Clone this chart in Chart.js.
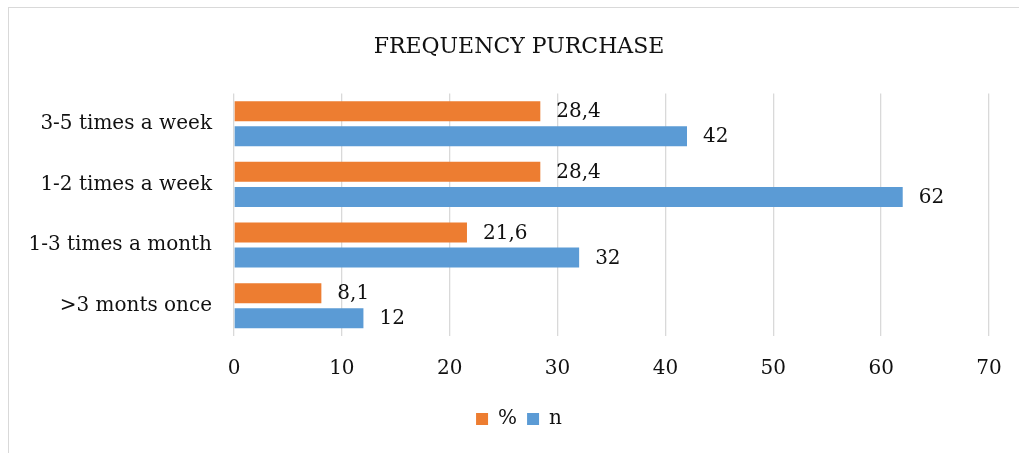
<!DOCTYPE html>
<html>
<head>
<meta charset="utf-8">
<script src="https://cdn.jsdelivr.net/npm/chart.js@4/dist/chart.umd.min.js"></script>
<style>
  html, body { margin: 0; padding: 0; background: #fff; }
  body { width: 1019px; height: 453px; overflow: hidden; position: relative; }
  #frame {
    position: absolute; left: 8px; top: 7px;
    width: 1020px; height: 446px;
    border-left: 1px solid #d9d9d9; border-top: 1px solid #d9d9d9;
  }
  #wrap { position: absolute; left: 0; top: 0; width: 1020px; height: 446px; }
</style>
</head>
<body>
<div id="frame"><div id="wrap"><canvas id="freqChart"></canvas></div></div>
<script>
// categories, top to bottom
const categories = ['3-5 times a week', '1-2 times a week', '1-3 times a month', '>3 monts once'];
const pctValues = [28.4, 28.4, 21.6, 8.1];
const nValues = [42, 62, 32, 12];
const xTicks = [0, 10, 20, 30, 40, 50, 60, 70];

const FONT = "'DejaVu Serif', 'Liberation Serif', serif";
const TXT = '#111';

// little plugin to write the values next to the bars (comma decimals like the original)
const valueLabels = {
  id: 'valueLabels',
  afterDatasetsDraw(chart) {
    const ctx = chart.ctx;
    ctx.save();
    ctx.font = '20px ' + FONT;
    ctx.fillStyle = TXT;
    ctx.textAlign = 'left';
    ctx.textBaseline = 'middle';
    chart.data.datasets.forEach((ds, i) => {
      const meta = chart.getDatasetMeta(i);
      meta.data.forEach((bar, j) => {
        let txt = String(ds.data[j]).replace('.', ',');
        ctx.fillText(txt, bar.x + 16, bar.y + 1);
      });
    });
    ctx.restore();
  }
};

// y labels get clipped to the axis box, so stretch the box back to the canvas edge
const widenY = {
  id: 'widenY',
  afterLayout(chart) { chart.scales.y.left = 0; }
};

const ctx = document.getElementById('freqChart').getContext('2d');
const chart = new Chart(ctx, {
  type: 'bar',
  data: {
    labels: categories,
    datasets: [
      { label: '%', data: pctValues, backgroundColor: '#ED7D31', barPercentage: 0.8, categoryPercentage: 0.826 },
      { label: 'n', data: nValues, backgroundColor: '#5B9BD5', barPercentage: 0.8, categoryPercentage: 0.826 }
    ]
  },
  options: {
    indexAxis: 'y',
    responsive: true,
    maintainAspectRatio: false,
    animation: false,
    // side padding keeps title/legend centred like the original while the plot stays put
    layout: { padding: { left: 40, right: 40, top: 0, bottom: 15 } },
    scales: {
      x: {
        min: 0, max: 70,
        afterBuildTicks: (s) => { s.ticks = xTicks.map(v => ({ value: v })); },
        afterFit: (s) => { s.height = 63; },
        grid: { color: '#d9d9d9', lineWidth: 1.3, drawTicks: false },
        border: { display: false },
        ticks: { padding: 21, color: TXT, font: { family: FONT, size: 20 } }
      },
      y: {
        afterFit: (s) => { s.width = 185; },
        grid: { display: false, drawTicks: false },
        border: { display: false },
        ticks: { padding: 22, color: TXT, font: { family: FONT, size: 20 } }
      }
    },
    plugins: {
      title: {
        display: true,
        text: 'FREQUENCY PURCHASE',
        color: TXT,
        font: { family: FONT, size: 22, weight: 'normal' },
        padding: { top: 26, bottom: 33 }
      },
      legend: {
        position: 'bottom',
        labels: {
          boxWidth: 12, boxHeight: 12, padding: 10,
          color: TXT,
          font: { family: FONT, size: 20 }
        }
      },
      tooltip: { enabled: false }
    }
  },
  plugins: [valueLabels, widenY]
});
</script>
</body>
</html>
